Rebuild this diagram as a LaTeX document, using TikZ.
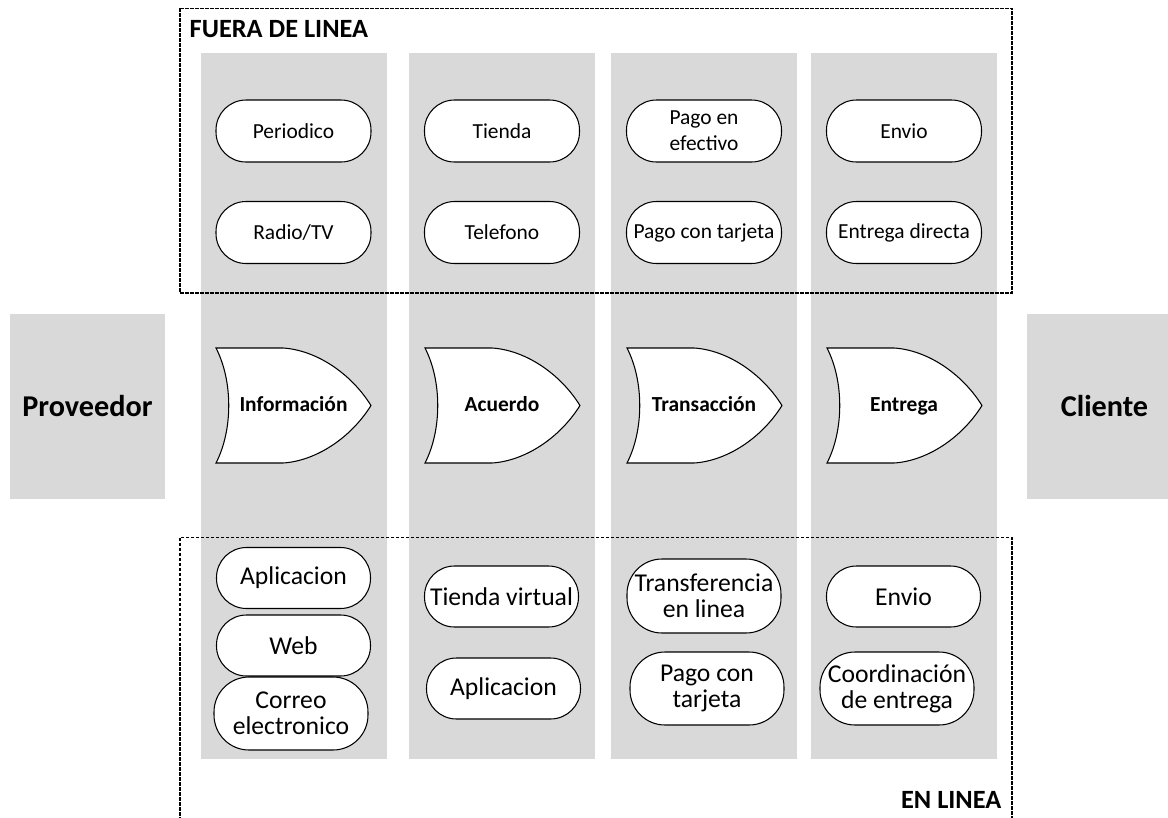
\documentclass[tikz,border=0pt]{standalone}
\usepackage{fontspec}
\setmainfont{Carlito}
\definecolor{lanegray}{HTML}{D9D9D9}

\begin{document}
\begin{tikzpicture}[scale=0.1]
              \tikzstyle{every node}+=[inner sep=0pt]
              \tikzstyle{lane}=[fill=lanegray, minimum width=18.6mm, minimum height=70.6mm]
              \tikzstyle{party}=[fill=lanegray, minimum width=15.5mm, minimum height=18.5mm, font=\fontsize{8.6}{10}\selectfont\bfseries]
              \tikzstyle{pill}=[draw=black, line width=0.3pt, fill=white, rounded corners=3mm, minimum width=15.5mm, minimum height=6.2mm, align=center, font=\fontsize{6.1}{7.4}\selectfont]
              \tikzstyle{webpill}=[pill, minimum width=15.4mm, minimum height=6.1mm, font=\fontsize{7.3}{7.4}\selectfont]
              \tikzstyle{tallpill}=[webpill, rounded corners=3.5mm, minimum height=7.3mm]
              \tikzstyle{gate}=[draw=black, line width=0.3pt, fill=white]
              \tikzstyle{gatetext}=[anchor=base, font=\fontsize{6.1}{7}\selectfont\bfseries]
              \tikzstyle{zone}=[draw=black, line width=0.3pt, dash pattern=on 0.35mm off 0.15mm]
              \tikzstyle{zonetext}=[font=\fontsize{7.5}{8}\selectfont\bfseries]
              \useasboundingbox (0,0) rectangle (116.8,-81.8);
              % carriles
              \node [lane] (laneinfo) at (29.4,-40.6) {};
              \node [lane] (laneacuerdo) at (50.2,-40.6) {};
              \node [lane] (lanetrans) at (70.4,-40.6) {};
              \node [lane] (laneentrega) at (90.4,-40.6) {};
              \node [party] (proveedor) at (8.75,-40.65) {Proveedor};
              \node [party] (cliente) at (110.45,-40.65) {Cliente};
              % zonas
              \draw [zone] (18.0,-0.83) rectangle (101.2,-29.3);
              \draw [zone] (18.0,-53.75) rectangle (101.2,-83.0);
              \node [zonetext, anchor=base west] (fuera) at (18.9,-3.73) {FUERA DE LINEA};
              \node [zonetext, anchor=base east] (enlinea) at (100.2,-80.8) {EN LINEA};
              % fuera de linea
              \node [pill] (periodico) at (29.35,-13.1) {Periodico};
              \node [pill] (radio) at (29.35,-23.25) {Radio/TV};
              \node [pill] (tienda) at (50.2,-13.1) {Tienda};
              \node [pill] (telefono) at (50.2,-23.25) {Telefono};
              \node [pill] (efectivo) at (70.4,-13.1) {Pago en\\efectivo};
              \node [pill] (tarjeta) at (70.4,-23.25) {Pago con tarjeta};
              \node [pill] (envio) at (90.4,-13.1) {Envio};
              \node [pill] (directa) at (90.4,-23.25) {Entrega directa};
              % etapas
              \draw [gate] (21.6,-34.8) -- (28.3,-34.8) .. controls (31.5,-35.0) and (35.0,-37.2) .. (37.1,-40.55) .. controls (35.0,-43.9) and (31.5,-46.1) .. (28.3,-46.3) -- (21.6,-46.3) .. controls (23.3,-43.0) and (23.3,-38.1) .. (21.6,-34.8) -- cycle;
              \node [gatetext] (info) at (29.35,-41.15) {Información};
              \draw [gate] (42.5,-34.8) -- (49.2,-34.8) .. controls (52.4,-35.0) and (55.9,-37.2) .. (58.0,-40.55) .. controls (55.9,-43.9) and (52.4,-46.1) .. (49.2,-46.3) -- (42.5,-46.3) .. controls (44.2,-43.0) and (44.2,-38.1) .. (42.5,-34.8) -- cycle;
              \node [gatetext] (acuerdo) at (50.2,-41.15) {Acuerdo};
              \draw [gate] (62.7,-34.8) -- (69.4,-34.8) .. controls (72.6,-35.0) and (76.1,-37.2) .. (78.2,-40.55) .. controls (76.1,-43.9) and (72.6,-46.1) .. (69.4,-46.3) -- (62.7,-46.3) .. controls (64.4,-43.0) and (64.4,-38.1) .. (62.7,-34.8) -- cycle;
              \node [gatetext] (transaccion) at (70.4,-41.15) {Transacción};
              \draw [gate] (82.7,-34.8) -- (89.4,-34.8) .. controls (92.6,-35.0) and (96.1,-37.2) .. (98.2,-40.55) .. controls (96.1,-43.9) and (92.6,-46.1) .. (89.4,-46.3) -- (82.7,-46.3) .. controls (84.4,-43.0) and (84.4,-38.1) .. (82.7,-34.8) -- cycle;
              \node [gatetext] (entrega) at (90.4,-41.15) {Entrega};
              % en linea
              \node [webpill] (aplicacion) at (29.35,-57.8) {Aplicacion};
              \node [webpill] (web) at (29.35,-64.55) {Web};
              \node [tallpill] (correo) at (29.1,-71.35) {Correo\\electronico};
              \node [webpill] (virtual) at (50.15,-59.65) {Tienda virtual};
              \node [webpill] (app) at (50.35,-68.85) {Aplicacion};
              \node [tallpill, minimum height=7.4mm] (transferencia) at (70.4,-59.6) {Transferencia\\en linea};
              \node [tallpill] (tarjetaweb) at (70.7,-68.85) {Pago con\\tarjeta};
              \node [webpill] (envioweb) at (90.35,-59.65) {Envio};
              \node [tallpill] (coordinacion) at (89.7,-68.85) {Coordinación\\de entrega};
            \end{tikzpicture}
\end{document}
